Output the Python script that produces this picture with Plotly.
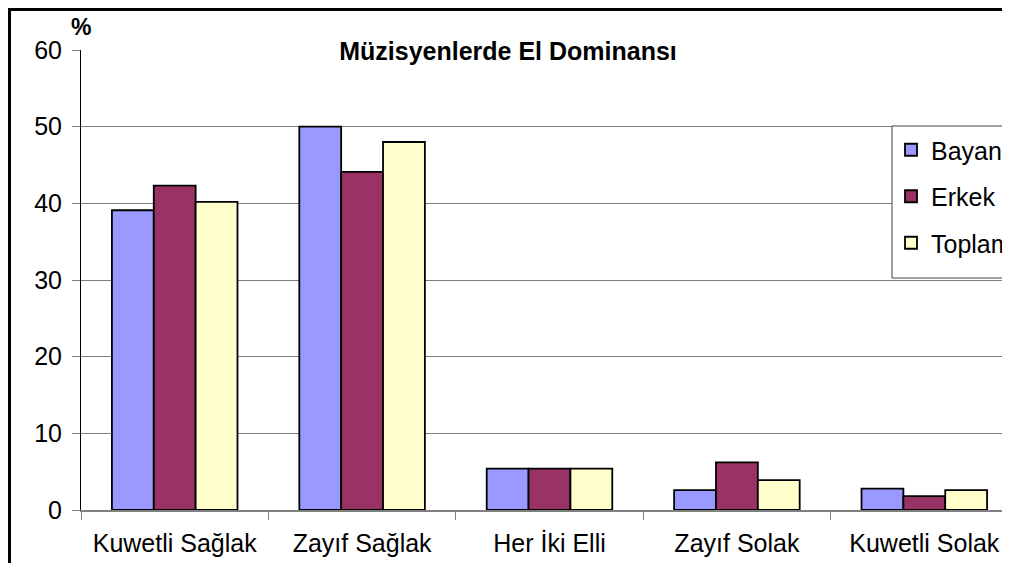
import plotly.graph_objects as go

categories = ["Kuwetli Sağlak", "Zayıf Sağlak", "Her İki Elli", "Zayıf Solak", "Kuwetli Solak"]
bayan = [39.1, 50.0, 5.4, 2.6, 2.8]
erkek = [42.3, 44.1, 5.4, 6.2, 1.8]
toplam = [40.2, 48.0, 5.4, 3.9, 2.6]
series_names = ["Bayan", "Erkek", "Toplam"]
series_colors = ["#9999FF", "#993366", "#FFFFCC"]
y_ticks = [0, 10, 20, 30, 40, 50, 60]

FONT = "Liberation Sans, Arial, sans-serif"

# figure geometry (page body has an 8px margin, so figure is 994x555)
W, H = 994, 555
L, T, B = 73, 42, 53
PW = W - L           # plot width in px
PH = H - T - B       # plot height in px
CAT_PX = 187.4       # pixel width of one category
x_end = -0.5 + PW / CAT_PX


def px_x(x):
    return (x - L) / PW


def px_y(y):
    return (H - B - y) / PH


fig = go.Figure()
for name, vals, col in zip(series_names, [bayan, erkek, toplam], series_colors):
    fig.add_trace(go.Bar(
        name=name, x=categories, y=vals, legendgroup=name,
        marker=dict(color=col, line=dict(color="black", width=1.8)),
    ))

fig.update_layout(
    width=W, height=H,
    margin=dict(l=L, r=0, t=T, b=B, autoexpand=False),
    paper_bgcolor="white", plot_bgcolor="white",
    barmode="group", bargap=0.33, bargroupgap=0,
    font=dict(family=FONT, size=25, color="black"),
    title=dict(text="<b>Müzisyenlerde El Dominansı</b>", font=dict(family=FONT, size=25, color="black"),
               xref="paper", x=px_x(500), xanchor="center",
               yref="paper", y=px_y(43), yanchor="middle"),
    showlegend=True,
    legend=dict(x=px_x(883), y=px_y(119), xanchor="left", yanchor="top",
                bgcolor="rgba(0,0,0,0)", borderwidth=0,
                font=dict(family=FONT, size=25, color="black"),
                tracegroupgap=11),
    xaxis=dict(range=[-0.5, x_end], showgrid=False, showline=True, linecolor="#808080", linewidth=2,
               ticks="outside", tickson="boundaries", ticklen=8, tickcolor="#808080",
               ticklabelstandoff=10,
               tickfont=dict(family=FONT, size=25, color="black"), fixedrange=True),
    yaxis=dict(range=[0, 60], tickvals=y_ticks, showgrid=True, gridcolor="#808080", gridwidth=1,
               showline=True, linecolor="black", linewidth=1, zeroline=False,
               ticks="outside", ticklen=8, tickcolor="#808080",
               ticklabelstandoff=5,
               tickfont=dict(family=FONT, size=25, color="black"), fixedrange=True),
)

fig.add_annotation(text="<b>%</b>", xref="paper", yref="paper", x=px_x(73), y=px_y(19),
                   xanchor="center", yanchor="middle", showarrow=False,
                   font=dict(family=FONT, size=23, color="black"))

# legend box (extends past the right edge, as in the original)
fig.add_shape(type="rect", xref="paper", yref="paper",
              x0=px_x(884), x1=px_x(1100), y0=px_y(270), y1=px_y(118),
              line=dict(color="#404040", width=1), fillcolor="white", layer="above")

# outer chart frame (top and left visible)
fig.add_shape(type="rect", xref="paper", yref="paper",
              x0=px_x(1.5), x1=px_x(1200), y0=px_y(700), y1=px_y(1.5),
              line=dict(color="black", width=3), fillcolor="rgba(0,0,0,0)", layer="above")

fig.write_html("out.html")
